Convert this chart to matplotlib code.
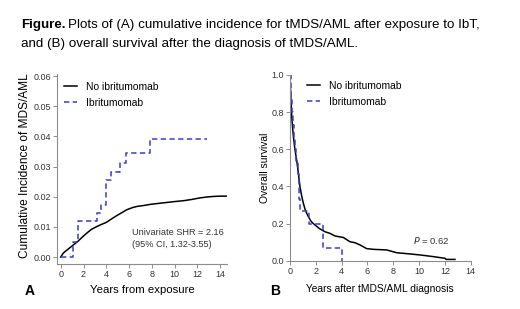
import matplotlib
matplotlib.use("Agg")
import matplotlib.pyplot as plt

plt.rcParams["font.family"] = ["Liberation Sans", "DejaVu Sans"]

# Panel A: cumulative incidence of tMDS/AML
a_no_t = [0, 0.2, 0.4, 0.7, 1.1, 1.5, 2.0, 2.4, 2.7, 3.1, 3.5, 4.0, 4.4, 4.9, 5.4, 5.8, 6.3, 6.7,
          7.3, 7.9, 8.6, 9.3, 10.0, 10.8, 11.5, 12.2, 12.8, 13.4, 14.0, 14.6]
a_no_v = [0, 0.0012, 0.0019, 0.0028, 0.0040, 0.0052, 0.0070, 0.0083, 0.0092, 0.0100, 0.0107, 0.0115,
          0.0125, 0.0137, 0.0148, 0.0157, 0.0164, 0.0168, 0.0171, 0.0175, 0.0178, 0.0181, 0.0184,
          0.0187, 0.0191, 0.0196, 0.0199, 0.0201, 0.0202, 0.0202]
a_ib_t = [0, 1.05, 1.49, 3.16, 3.54, 3.98, 4.42, 5.21, 5.71, 7.85, 12.83]
a_ib_v = [0, 0.0050, 0.0121, 0.0147, 0.0173, 0.0254, 0.0282, 0.0312, 0.0344, 0.0393, 0.0393]

# Panel B: overall survival
b_no_t = [0, 0.04, 0.08, 0.15, 0.26, 0.38, 0.52, 0.65, 0.77, 0.9, 1.03, 1.2, 1.42, 1.65, 1.94, 2.3,
          2.71, 3.1, 3.49, 4.13, 4.65, 5.03, 5.42, 5.94, 6.5, 7.49, 7.9, 8.26, 9.2, 10.07, 11.1,
          12.0, 12.1, 12.78]
b_no_v = [1.0, 0.92, 0.85, 0.76, 0.67, 0.60, 0.54, 0.47, 0.40, 0.35, 0.31, 0.27, 0.237, 0.21, 0.192,
          0.172, 0.156, 0.147, 0.133, 0.125, 0.102, 0.097, 0.085, 0.065, 0.061, 0.058, 0.050, 0.043,
          0.037, 0.031, 0.022, 0.013, 0.007, 0.007]
b_ib_t = [0, 0.05, 0.1, 0.15, 0.22, 0.3, 0.4, 0.5, 0.6, 0.67, 0.73, 0.8, 1.45, 2.55, 4.05]
b_ib_v = [1.0, 0.933, 0.867, 0.8, 0.733, 0.667, 0.6, 0.533, 0.467, 0.4, 0.333, 0.267, 0.2, 0.067, 0.0]

labels = ["No ibritumomab", "Ibritumomab"]
BLUE = "#3b3bcc"
GRAY = "#8c8c8c"
DASH = (0, (3.5, 2.2))

fig = plt.figure(figsize=(5.2, 3.09), dpi=100)

# title with bold "Figure." prefix
t1 = fig.text(21 / 520, 1 - 25 / 309, "Figure.", fontsize=9.6, fontweight="bold", va="center")
fig.canvas.draw()
bb = t1.get_window_extent()
fig.text(bb.x1 / 520 + 3 / 520, 1 - 25 / 309,
         "Plots of (A) cumulative incidence for tMDS/AML after exposure to IbT,",
         fontsize=9.6, va="center")
fig.text(21 / 520, 1 - 44 / 309, "and (B) overall survival after the diagnosis of tMDS/AML.",
         fontsize=9.6, va="center")


def style_axes(ax):
    for s in ["top", "right"]:
        ax.spines[s].set_visible(False)
    for s in ["left", "bottom"]:
        ax.spines[s].set_color(GRAY)
        ax.spines[s].set_linewidth(0.8)
    ax.tick_params(colors=GRAY, labelcolor="#333333", labelsize=6.5, length=3, width=0.7, pad=1.5)


# ---- panel A
axA = fig.add_axes([57 / 520, 1 - 264 / 309, 170 / 520, 190 / 309])
axA.plot(a_no_t, a_no_v, color="black", lw=1.1, label=labels[0])
axA.step(a_ib_t, a_ib_v, where="post", color=BLUE, lw=1.1, ls=DASH, label=labels[1])
axA.set_xlim(-0.33, 14.6)
axA.set_ylim(-0.0023, 0.0607)
axA.set_xticks(range(0, 15, 2))
axA.set_yticks([0, 0.01, 0.02, 0.03, 0.04, 0.05, 0.06])
axA.set_yticklabels([f"{v:.2f}" for v in axA.get_yticks()])
style_axes(axA)
axA.set_ylabel("Cumulative Incidence of MDS/AML", fontsize=8.6)
axA.yaxis.set_label_coords(-0.15, 0.52)
axA.set_xlabel("Years from exposure", fontsize=8.2, labelpad=4)
axA.text(6.3, 0.0082, "Univariate SHR = 2.16", fontsize=6.6, color="#333333", va="center")
axA.text(6.3, 0.0042, "(95% CI, 1.32-3.55)", fontsize=6.6, color="#333333", va="center")
axA.legend(loc="upper left", bbox_to_anchor=(64 / 520, 1 - 82 / 309), bbox_transform=fig.transFigure,
           frameon=False, fontsize=7.4, handlelength=1.3, handletextpad=0.8, labelspacing=0.55,
           borderaxespad=0, borderpad=0)

# ---- panel B
axB = fig.add_axes([290 / 520, 1 - 260.7 / 309, 180.7 / 520, 185.7 / 309])
axB.plot(b_no_t, b_no_v, color="black", lw=1.1, label=labels[0])
axB.step(b_ib_t, b_ib_v, where="post", color=BLUE, lw=1.1, ls=DASH, label=labels[1])
axB.set_xlim(0, 14)
axB.set_ylim(0, 1.0)
axB.set_xticks(range(0, 15, 2))
axB.set_yticks([0, 0.2, 0.4, 0.6, 0.8, 1.0])
axB.set_yticklabels([f"{v:.1f}" for v in axB.get_yticks()])
style_axes(axB)
axB.set_ylabel("Overall survival", fontsize=7.4, labelpad=1)
axB.set_xlabel("Years after tMDS/AML diagnosis", fontsize=7.4, labelpad=6)
axB.text(9.5, 0.11, "$\\it{P}$ = 0.62", fontsize=6.8, color="#333333", va="center")
axB.legend(loc="upper left", bbox_to_anchor=(307 / 520, 1 - 81 / 309), bbox_transform=fig.transFigure,
           frameon=False, fontsize=7.4, handlelength=1.3, handletextpad=0.8, labelspacing=0.55,
           borderaxespad=0, borderpad=0)

fig.text(25 / 520, 1 - 291 / 309, "A", fontsize=10, fontweight="bold", va="center")
fig.text(270 / 520, 1 - 291 / 309, "B", fontsize=10, fontweight="bold", va="center")

fig.savefig("out.png", dpi=100)
